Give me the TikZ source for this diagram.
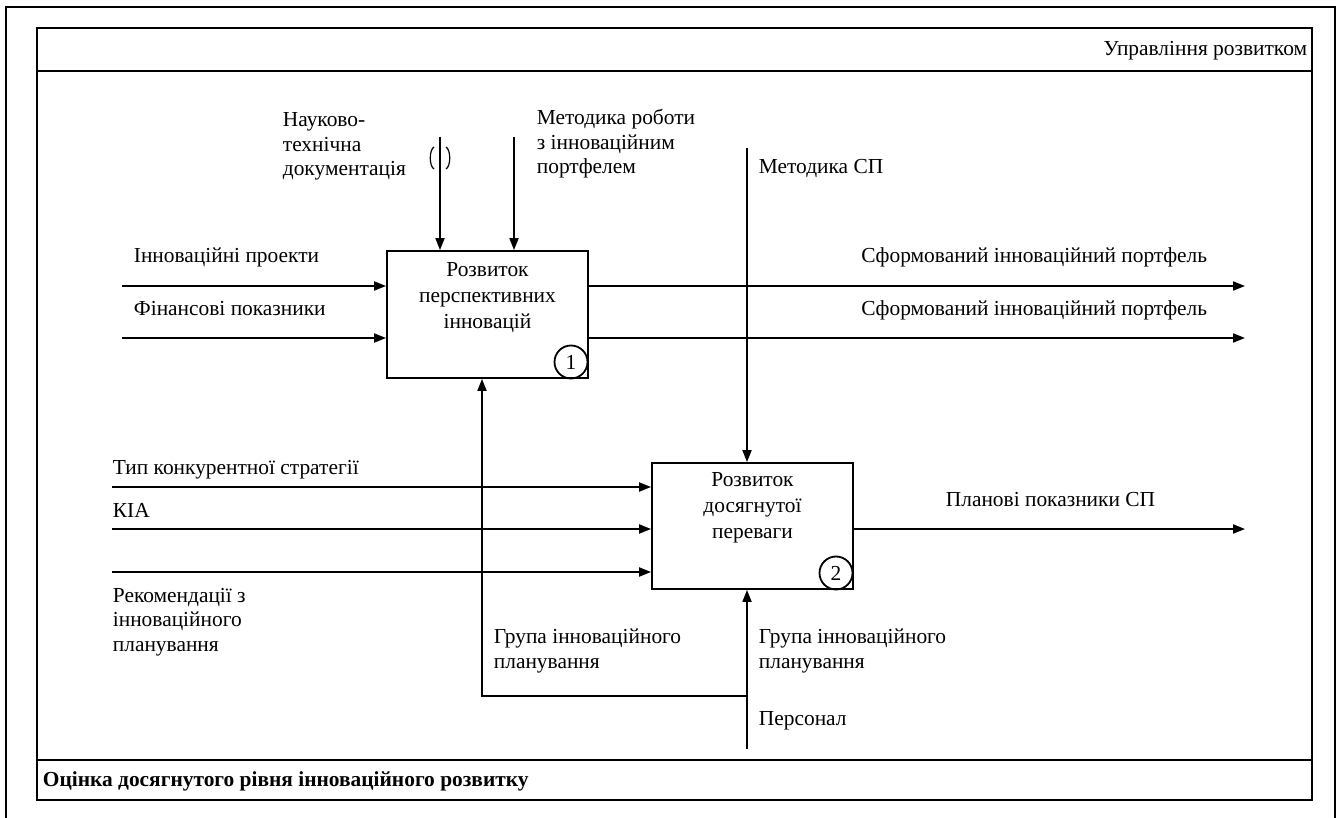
\documentclass[tikz,border=0pt]{standalone}
\usepackage{fontspec}
\setmainfont{Liberation Serif}
\usetikzlibrary{arrows.meta,positioning,calc}

\begin{document}
\begin{tikzpicture}[x=0.5pt,y=-0.5pt,line width=0.9pt,font=\fontsize{10.7}{12.25}\selectfont,
  fbox/.style={draw,minimum width=100.5pt,inner sep=0pt},
  ftitle/.style={align=center,inner sep=0pt,anchor=north,font=\fontsize{10.7}{13}\selectfont},
  fnum/.style={circle,draw,inner sep=0pt,minimum size=16.5pt},
  lbl/.style={align=left,inner sep=0pt,anchor=base west},
  flow/.style={-{Triangle[length=6pt,width=4.5pt]}}]
\useasboundingbox (0,0) rectangle (1338,818);
% frames
\draw (6,830) -- (6,7) -- (1335,7) -- (1335,830);
\draw (37,28) rectangle (1312,800);
\draw (37,71) -- (1312,71);
\draw (37,760) -- (1312,760);
\node[lbl,anchor=base east] (upr) at (1308,56) {Управління розвитком};
\node[lbl,font=\fontsize{10.7}{12.25}\selectfont\bfseries] (ocin) at (42,786) {Оцінка досягнутого рівня інноваційного розвитку};

% function boxes
\node[fbox,minimum height=63.5pt] (pers) at (487.5,314.5) {};
\node[ftitle] (pers-t) at ([yshift=-5.5pt]pers.north) {Розвиток\\перспективних\\інновацій};
\node[fnum] (n1) at (571,362) {1};
\node[fbox,minimum height=63pt] (perev) at (752.5,526) {};
\node[ftitle] (perev-t) at ([yshift=-4.5pt]perev.north) {Розвиток\\досягнутої\\переваги};
\node[fnum] (n2) at (836,573) {2};

% inputs and outputs of box 1
\foreach \y/\t [count=\i] in {286/Інноваційні проекти,338/Фінансові показники} {
  \coordinate (in\i) at (122,\y);
  \draw[flow] (in\i) -- (in\i -| pers.west);
  \node[lbl] (inl\i) at (133,\y-23) {\t};
  \coordinate (out\i) at (1245,\y);
  \draw[flow] (out\i -| pers.east) -- (out\i);
  \node[lbl,anchor=base east] (outl\i) at (1208,\y-23) {Сформований інноваційний портфель};
}

% controls of box 1
\coordinate (c1) at (440,137);
\coordinate (c2) at (514,137);
\foreach \c in {c1,c2} \draw[flow] (\c) -- (\c |- pers.north);
\draw[line width=0.6pt] (434,147) .. controls (429,150) and (429,166) .. (434,169);
\draw[line width=0.6pt] (446,147) .. controls (451,150) and (451,166) .. (446,169);
\node[lbl] (c1l) at (282,176) {Науково-\\технічна\\документація};
\node[lbl] (c2l) at (536,174) {Методика роботи\\з інноваційним\\портфелем};

% control of box 2
\coordinate (msp) at (747,148);
\draw[flow] (msp) -- (msp |- perev.north);
\node[lbl] (mspl) at (758,174) {Методика СП};

% inputs and output of box 2
\foreach \y [count=\i] in {487,529,572} {
  \coordinate (inp\i) at (112,\y);
  \draw[flow] (inp\i) -- (inp\i -| perev.west);
}
\node[lbl] (tip) at (112,474) {Тип конкурентної стратегії};
\node[lbl] (kia) at (112,517) {КІА};
\node[lbl] (rek) at (112,651) {Рекомендації з\\інноваційного\\планування};
\coordinate (out3) at (1245,529);
\draw[flow] (out3 -| perev.east) -- (out3);
\node[lbl] (plan) at (945,506) {Планові показники СП};

% mechanisms
\coordinate (mech) at (747,749);
\coordinate (br) at (747,696);
\coordinate (m1) at (482,696);
\draw[flow] (mech) -- (mech |- perev.south);
\draw[flow] (br) -- (m1) -- (m1 |- pers.south);
\node[lbl] (grp1) at (493,668) {Група інноваційного\\планування};
\node[lbl] (grp2) at (758,668) {Група інноваційного\\планування};
\node[lbl] (pers-l) at (758,725) {Персонал};
\end{tikzpicture}
\end{document}
